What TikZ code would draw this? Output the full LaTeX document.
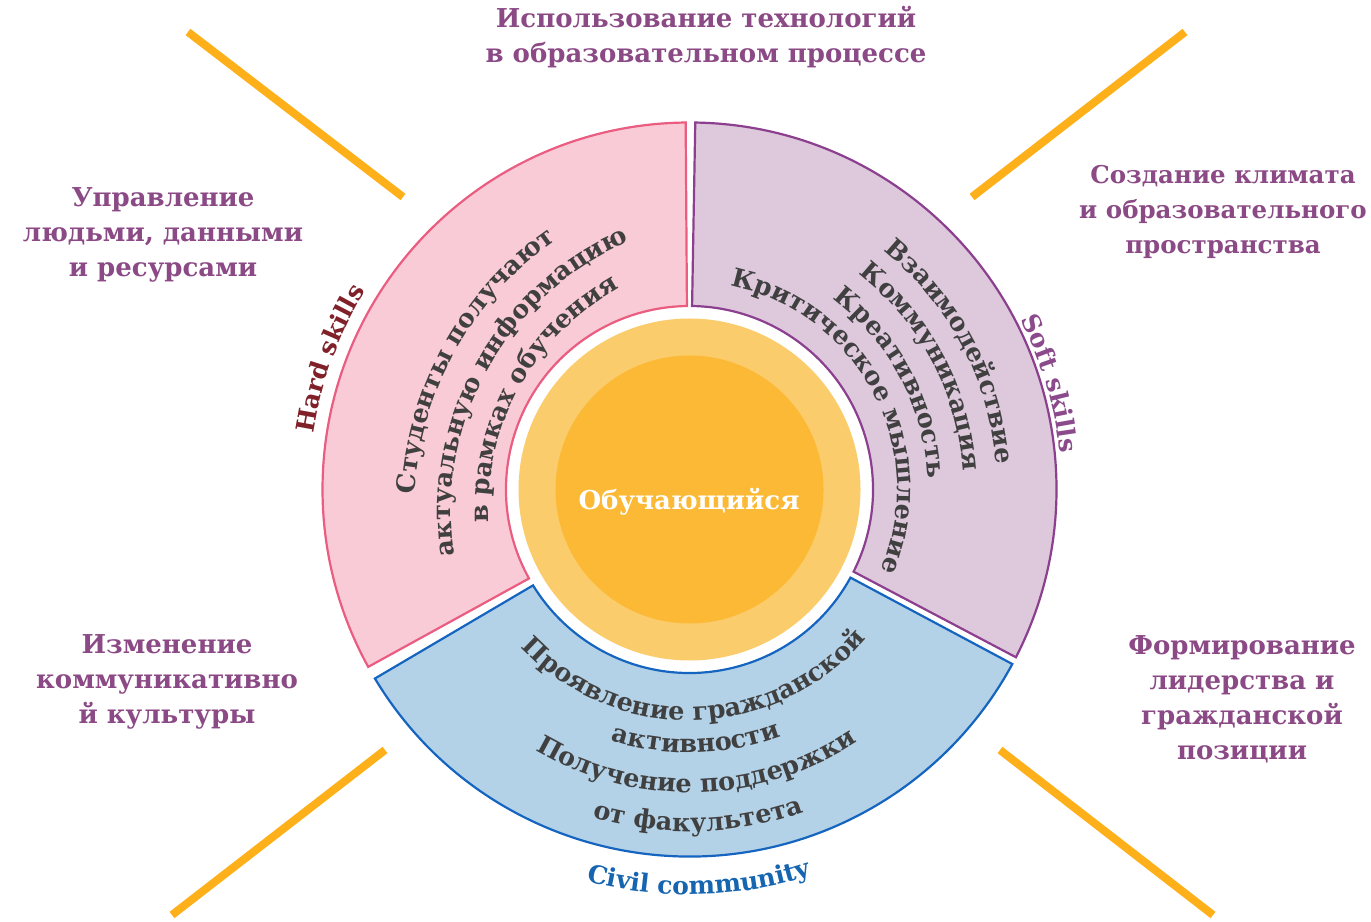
\documentclass[tikz,border=0pt]{standalone}
\usepackage{fontspec}
\setmainfont{DejaVu Serif}
\usetikzlibrary{decorations.text}
\definecolor{pinkfill}{HTML}{F9CBD6}
\definecolor{pinkline}{HTML}{EA5C80}
\definecolor{violetfill}{HTML}{DDC8DC}
\definecolor{violetline}{HTML}{8B3F8E}
\definecolor{bluefill}{HTML}{B3D1E7}
\definecolor{blueline}{HTML}{1565C0}
\definecolor{lightorange}{HTML}{FBCC6C}
\definecolor{darkorange}{HTML}{FCB935}
\definecolor{rayorange}{HTML}{FDB019}
\definecolor{labelviolet}{HTML}{8B4A85}
\definecolor{ink}{HTML}{404040}
\definecolor{hardred}{HTML}{802028}
\definecolor{softviolet}{HTML}{8B4A8B}
\definecolor{civilblue}{HTML}{1565B0}
% #1 centre, #2 radius, #3 start angle, #4 end angle, #5 colour, #6 size, #7 text
\newcommand\curvedline[7]{%
  \path[decorate, decoration={text along path, text align=center, text color=#5,
    text={|\fontsize{#6}{#6}\selectfont\bfseries|#7}}]
    ([shift={(#1)}]#3:#2) arc[start angle=#3, end angle=#4, radius=#2];}
\tikzset{
  seg/.style={line width=2.2bp, line join=miter},
  outerlabel/.style={font=\fontsize{26bp}{35bp}\selectfont\bfseries, text=labelviolet, align=center, inner sep=0pt},
  ray/.style={draw=rayorange, line width=8bp},
}
\begin{document}
\begin{tikzpicture}[x=1bp, y=1bp]
\useasboundingbox (0,0) rectangle (1371,921);
\coordinate (C) at (689.5,431.5);
\coordinate (PC) at (745,409);
% rays
\draw[ray] (188,889) -- (403,724);
\draw[ray] (1185,889) -- (972,724);
\draw[ray] (385,171) -- (172,6);
\draw[ray] (1000,171) -- (1213,6);
% segments
\draw[seg, fill=pinkfill, draw=pinkline] ([shift={(C)}]90.6:367bp) arc[start angle=90.6, end angle=208.9, radius=367bp]
  -- ([shift={(C)}]209:183.5bp) arc[start angle=209, end angle=90.8, radius=183.5bp] -- cycle;
\draw[seg, fill=violetfill, draw=violetline] ([shift={(C)}]89.1:367bp) arc[start angle=89.1, end angle=-27.2, radius=367bp]
  -- ([shift={(C)}]-26.6:183.5bp) arc[start angle=-26.6, end angle=89.2, radius=183.5bp] -- cycle;
\draw[seg, fill=bluefill, draw=blueline] ([shift={(C)}]211:367bp) arc[start angle=211, end angle=331.6, radius=367bp]
  -- ([shift={(C)}]331.3:183.5bp) arc[start angle=331.3, end angle=211.5, radius=183.5bp] -- cycle;
% centre
\node[circle, fill=lightorange, minimum size=342bp, inner sep=0pt] (ring) at (C) {};
\node[circle, fill=darkorange, minimum size=268bp, inner sep=0pt] (core) at (C) {};
\node[font=\fontsize{26bp}{30bp}\selectfont\bfseries, text=white] (learner) at (689,419) {Обучающийся};
% outer labels
\node[outerlabel] (tech) at (706,883.5) {Использование технологий\\в образовательном процессе};
\node[outerlabel, font=\fontsize{24.5bp}{35bp}\selectfont\bfseries] (climate) at (1223,709.5) {Создание климата\\и образовательного\\пространства};
\node[outerlabel] (manage) at (163,686) {Управление\\людьми, данными\\и ресурсами};
\node[outerlabel] (comm) at (167,239.5) {Изменение\\коммуникативно\\й культуры};
\node[outerlabel] (lead) at (1242,222) {Формирование\\лидерства и\\гражданской\\позиции};
% curved texts: hard skills block
\curvedline{PC}{331bp}{210.8}{90.8}{ink}{25.5bp}{Студенты получают}
\curvedline{PC}{294bp}{210.8}{90.8}{ink}{25.5bp}{актуальную информацию}
\curvedline{PC}{257bp}{210.8}{90.8}{ink}{25.5bp}{в рамках обучения}
% soft skills block
\curvedline{C}{308bp}{97.8}{-42.2}{ink}{25.5bp}{Взаимодействие}
\curvedline{C}{274bp}{97.8}{-42.2}{ink}{25.5bp}{Коммуникация}
\curvedline{C}{238.5bp}{97.8}{-42.2}{ink}{25.5bp}{Креативность}
\curvedline{C}{207.5bp}{97.8}{-42.2}{ink}{25.5bp}{Критическое мышление}
% civil block
\curvedline{C}{231bp}{201.5}{341.5}{ink}{25.5bp}{Проявление гражданской}
\curvedline{C}{263bp}{201.5}{341.5}{ink}{25.5bp}{активности}
\curvedline{C}{303bp}{201.5}{341.5}{ink}{25.5bp}{Получение поддержки}
\curvedline{C}{342bp}{201.5}{341.5}{ink}{25.5bp}{от факультета}
% block titles
\curvedline{C}{380bp}{200}{120}{hardred}{25bp}{Hard skills}
\curvedline{C}{372bp}{56.4}{-23.6}{softviolet}{25bp}{Soft skills}
\curvedline{C}{405bp}{231.4}{311.4}{civilblue}{25bp}{Civil community}
\end{tikzpicture}
\end{document}
